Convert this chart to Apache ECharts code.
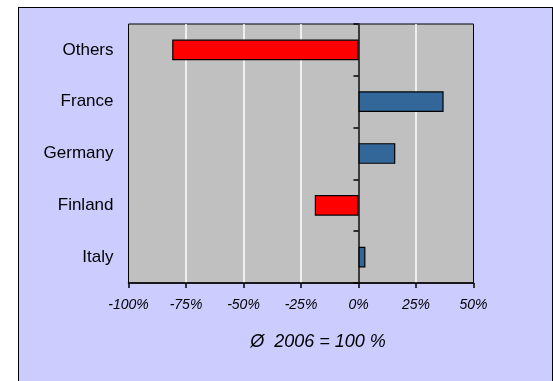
<!DOCTYPE html>
<html>
<head>
<meta charset="utf-8">
<script src="https://cdn.jsdelivr.net/npm/echarts@6/dist/echarts.min.js"></script>
<style>
  html, body { margin: 0; padding: 0; background: #fff; }
  #box { position: absolute; left: 18px; top: 7px; width: 533px; height: 390px;
         border: 1px solid #000; background: #CCCCFF; }
  #chart { position: absolute; left: 0; top: 0; width: 553px; height: 381px; }
</style>
</head>
<body>
<div id="box"></div>
<div id="chart"></div>
<script>
const FONT = '"Liberation Sans", Arial, sans-serif';

// bottom to top, as the category axis runs
const countries = ["Italy", "Finland", "Germany", "France", "Others"];
const change = [3, -19, 16, 37, -81]; // % vs 2006 average
const xTicks = { min: -100, max: 50, step: 25 };
const note = "Ø  2006 = 100 %";

const chart = echarts.init(document.getElementById("chart"), null, { renderer: "canvas" });

chart.setOption({
  backgroundColor: "transparent",
  animation: false,
  grid: {
    left: 128.5, right: 79.5, top: 24, bottom: 98,
    show: true, backgroundColor: "#C0C0C0", borderColor: "#000", borderWidth: 1,
  },
  xAxis: {
    type: "value",
    min: xTicks.min, max: xTicks.max, interval: xTicks.step,
    axisLine: { show: true, lineStyle: { color: "#000", width: 1.5 } },
    axisTick: { show: true, length: 5, lineStyle: { color: "#000", width: 1.5 } },
    axisLabel: {
      formatter: "{value}%", color: "#000", fontSize: 14, fontStyle: "italic",
      fontFamily: FONT, margin: 15,
    },
    splitLine: { show: true, showMinLine: false, showMaxLine: false, lineStyle: { color: "#fff", width: 1.5 } },
  },
  yAxis: [
    {
      // labels on the left edge of the plot
      type: "category", data: countries, position: "left",
      axisLine: { show: false, onZero: false },
      axisTick: { show: false },
      axisLabel: { color: "#000", fontSize: 17, fontFamily: FONT, margin: 15 },
    },
    {
      // the zero line with its category ticks
      type: "category", data: countries, position: "left",
      axisLine: { show: true, onZero: true, lineStyle: { color: "#000", width: 1.5 } },
      axisTick: { show: true, length: 5, lineStyle: { color: "#000", width: 1.5 } },
      axisLabel: { show: false },
      splitLine: { show: false },
    },
  ],
  graphic: [
    {
      type: "text", x: 318, y: 342,
      style: {
        text: note, fill: "#000", font: "italic 18px " + FONT,
        textAlign: "center", textVerticalAlign: "middle",
      },
    },
  ],
  series: [
    {
      type: "bar",
      yAxisIndex: 0,
      data: change,
      barWidth: "40%",
      z: 1,
      itemStyle: {
        color: (p) => (p.value < 0 ? "#FF0000" : "#336699"),
        borderColor: "#000",
        borderWidth: 1.2,
      },
    },
  ],
});
</script>
</body>
</html>
